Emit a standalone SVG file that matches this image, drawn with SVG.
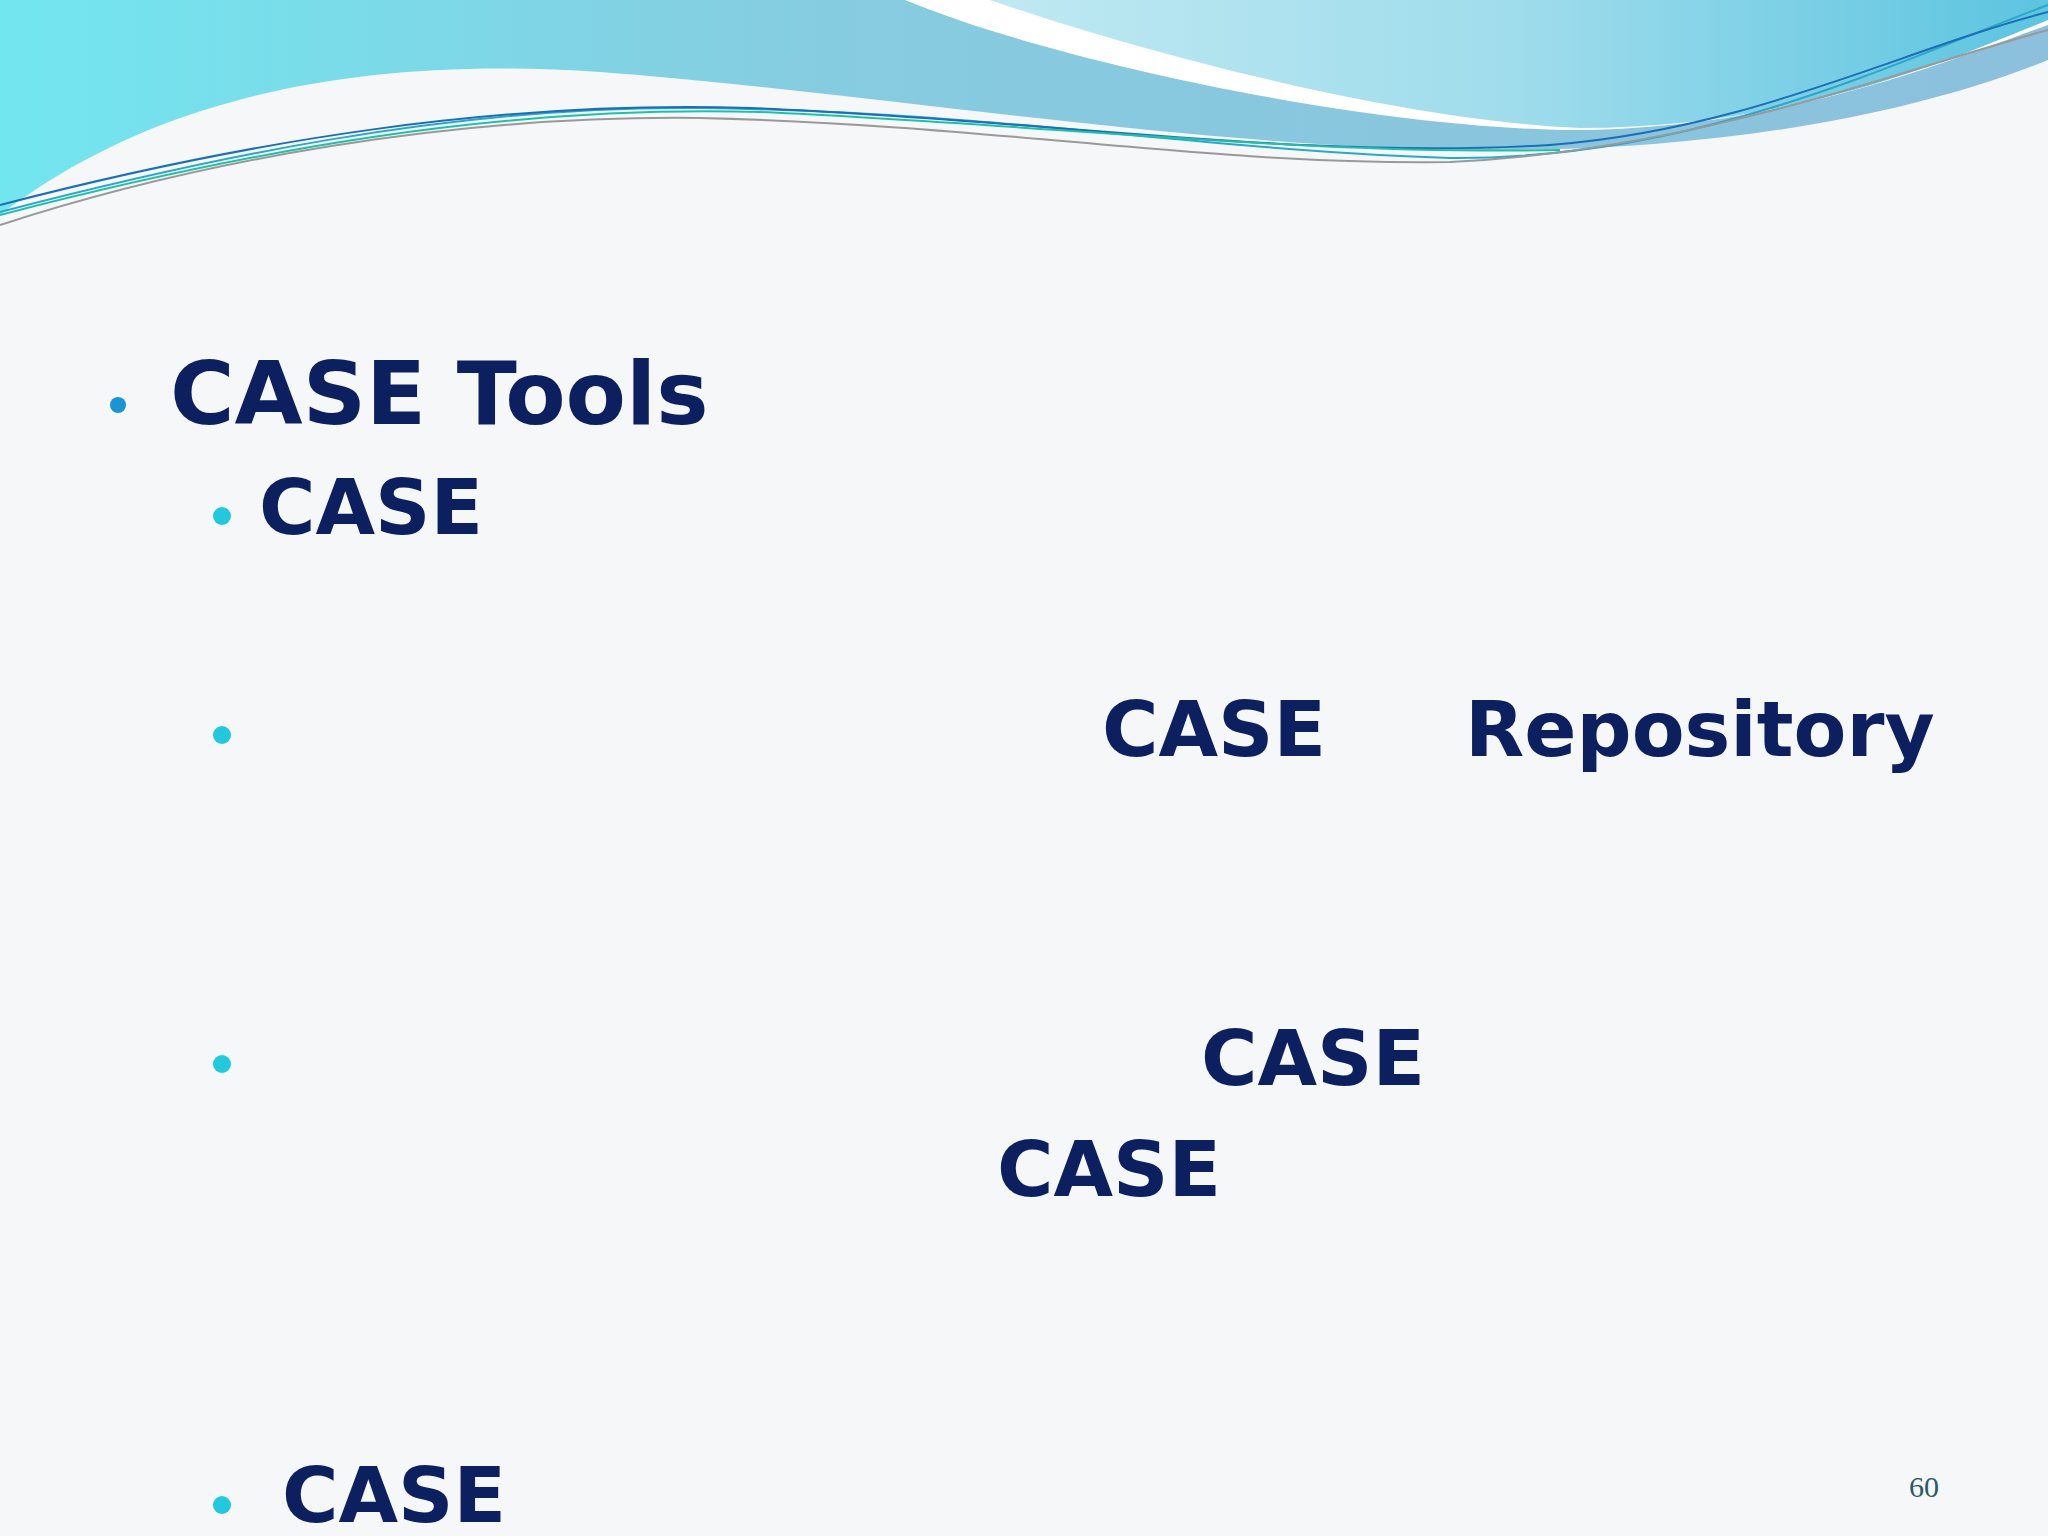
<svg xmlns="http://www.w3.org/2000/svg" width="2048" height="1536" viewBox="0 0 2048 1536">
<defs>
<linearGradient id="g1" x1="0" y1="0" x2="1" y2="0"><stop offset="0" stop-color="#72e6ef"/><stop offset="0.4" stop-color="#86cce0"/><stop offset="1" stop-color="#8cc0dc"/></linearGradient>
<linearGradient id="g2" x1="0" y1="0" x2="1" y2="0"><stop offset="0" stop-color="#bfe9f2"/><stop offset="0.5" stop-color="#9fdcec"/><stop offset="1" stop-color="#5cc4e0"/></linearGradient>
<style>
.t{font-family:"DejaVu Sans",Verdana,sans-serif;font-weight:bold;fill:#0c1f5e}
.l{fill:none;stroke-width:2}
</style>
</defs>
<rect width="2048" height="1536" fill="#f6f7f9"/>
<path d="M0,0 H2048 V60 C1900,120 1700,150 1500,150 C1200,150 900,95 600,72 C350,55 150,100 0,215 Z" fill="url(#g1)"/>
<path d="M905,0 C1050,60 1350,125 1560,130 C1780,132 1950,60 2048,25 V0 Z" fill="#ffffff"/>
<path d="M990,0 C1150,55 1400,120 1580,128 C1800,128 1960,55 2048,20 V0 Z" fill="url(#g2)"/>
<path class="l" stroke="#2aa8c8" d="M0,212 C200,160 450,105 700,108 C1000,112 1200,150 1450,158 C1700,160 1900,60 2048,5"/>
<path class="l" stroke="#1b6fb8" d="M0,205 C250,140 500,100 750,108 C1050,120 1300,160 1550,145 C1750,130 1900,50 2048,12"/>
<path class="l" stroke="#999" d="M0,225 C200,160 450,115 700,118 C1000,125 1200,165 1450,162 C1700,150 1900,70 2048,30"/>
<path class="l" stroke="#20c0a8" d="M0,215 C250,150 500,105 760,112 C1050,125 1300,155 1560,150"/>
<circle cx="118" cy="405" r="8" fill="#1a95d3"/>
<text class="t" x="170" y="424" font-size="88">CASE Tools</text>
<g fill="#22c8de">
<circle cx="222" cy="516" r="9"/><circle cx="222" cy="735" r="9"/><circle cx="222" cy="1064" r="9"/><circle cx="222" cy="1505" r="9"/>
</g>
<g class="t" font-size="77">
<text x="259" y="534">CASE</text>
<text x="1102" y="756">CASE</text>
<text x="1465" y="756">Repository</text>
<text x="1201" y="1085">CASE</text>
<text x="997" y="1196">CASE</text>
<text x="282" y="1522">CASE</text>
</g>
<text x="1909" y="1497" font-family="Liberation Serif,serif" font-size="30" fill="#2b5a6a">60</text>
</svg>
